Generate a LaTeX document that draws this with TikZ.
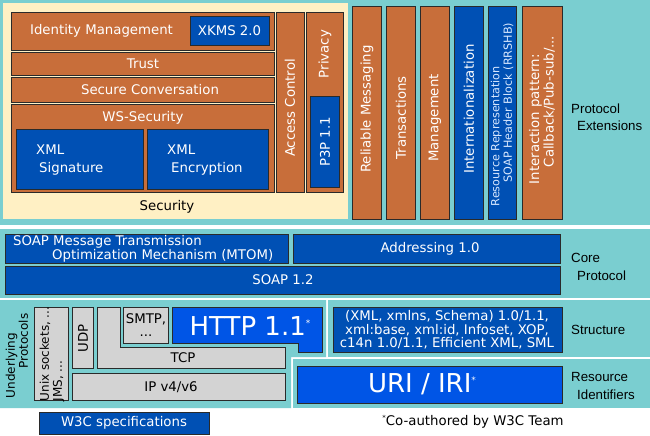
\documentclass[tikz,border=0pt]{standalone}
\usepackage{fontspec}
\setmainfont{DejaVu Sans}
\newfontfamily\lblfont{Liberation Sans}
\definecolor{w3cteal}{HTML}{7ACED0}
\definecolor{w3ccream}{HTML}{FFF0C4}
\definecolor{w3corange}{HTML}{C86E3A}
\definecolor{w3cblue}{HTML}{0050B4}
\definecolor{w3cbright}{HTML}{0055E6}
\definecolor{w3cgray}{HTML}{D3D3D3}
\definecolor{w3cedge}{HTML}{2A2A2A}
\definecolor{w3cpale}{HTML}{D8E8FF}

\begin{document}
\begin{tikzpicture}[x=1pt, y=-1pt,
    box/.style={draw=w3cedge, line width=0.8pt},
    txt/.style={inner sep=0pt, text=white, font=\fontsize{13.3}{16}\selectfont},
    dtxt/.style={inner sep=0pt, text=black, font=\fontsize{13.3}{16}\selectfont},
    vtxt/.style={txt, rotate=90},
    lbl/.style={inner sep=0pt, anchor=west, align=left, font=\lblfont\fontsize{13.3}{17.5}\selectfont}]
    \useasboundingbox (0,0) rectangle (650,436);

    % 1. Teal panels and the security area
    \fill[white] (0,0) rectangle (650,436);
    \fill[w3cteal] (0,0) rectangle (650,225);
    \fill[w3cteal] (0,229) rectangle (650,298);
    \fill[w3cteal] (0,300) -- (326,300) -- (326,357) -- (291,357) -- (291,408) -- (0,408) -- cycle;
    \fill[w3cteal] (328,300) rectangle (650,357);
    \fill[w3cteal] (293,359) rectangle (650,408);
    \fill[w3ccream] (3,3) rectangle (348,219);

    % 2. Security boxes
    \draw[box, fill=w3corange] (11,12) rectangle (274,50);
    \draw[box, fill=w3cblue] (190,16) rectangle (269,45);
    \draw[box, fill=w3corange] (11,52) rectangle (274,75);
    \draw[box, fill=w3corange] (11,77) rectangle (274,102);
    \draw[box, fill=w3corange] (11,104) rectangle (274,192);
    \draw[box, fill=w3cblue] (16,129) rectangle (143,189);
    \draw[box, fill=w3cblue] (147,129) rectangle (268,189);
    \draw[box, fill=w3corange] (276,12) rectangle (304,192);
    \draw[box, fill=w3corange] (306,12) rectangle (343,192);
    \draw[box, fill=w3cblue] (310,96) rectangle (339,187);

    \node[txt] (idm) at (101.5,31) {Identity Management};
    \node[txt] (xkms) at (229.5,30.5) {XKMS 2.0};
    \node[txt] (trust) at (143,64) {Trust};
    \node[txt] (secconv) at (150,90) {Secure Conversation};
    \node[txt] (wssec) at (143,118) {WS-Security};
    \node[txt, anchor=west, align=left, font=\fontsize{13.3}{18.5}\selectfont] (xmlsig) at (36,160) {XML\\\hspace{3pt}Signature};
    \node[txt, anchor=west, align=left, font=\fontsize{13.3}{18.5}\selectfont] (xmlenc) at (167,160) {XML\\\hspace{4pt}Encryption};
    \node[vtxt] (access) at (290,108) {Access Control};
    \node[vtxt] (privacy) at (325,54) {Privacy};
    \node[vtxt] (p3p) at (325,142) {P3P 1.1};
    \node[dtxt] (security) at (167,207) {Security};

    % 3. Extension bars
    \draw[box, fill=w3corange] (352,6) rectangle (381,219);
    \draw[box, fill=w3corange] (386,6) rectangle (415,219);
    \draw[box, fill=w3corange] (420,6) rectangle (449,219);
    \draw[box, fill=w3cblue] (454,6) rectangle (483,219);
    \draw[box, fill=w3cblue] (488,6) rectangle (516,219);
    \draw[box, fill=w3corange] (522,6) rectangle (562,219);

    \node[vtxt] (reliable) at (367,109) {Reliable Messaging};
    \node[vtxt] (trans) at (401,118) {Transactions};
    \node[vtxt] (mgmt) at (435,118) {Management};
    \node[vtxt] (intl) at (469,109) {Internationalization};
    \node[vtxt, text=w3cpale, align=left, font=\fontsize{11.2}{12.5}\selectfont] (rrshb) at (502,114.5)
        {Resource Representation\\\hspace{24pt}SOAP Header Block (RRSHB)};
    \node[vtxt, align=left, font=\fontsize{13.3}{14.5}\selectfont] (inter) at (542,110)
        {Interaction pattern:\\\hspace{17pt}Callback/Pub-sub/...};
    \node[lbl] (protext) at (571,117) {Protocol\\\hspace{6pt}Extensions};

    % 4. Core protocol
    \draw[box, fill=w3cblue] (5,234) rectangle (288,263);
    \draw[box, fill=w3cblue] (293,234) rectangle (560,263);
    \draw[box, fill=w3cblue] (5,266) rectangle (560,294);

    \node[txt, anchor=west, align=left, font=\fontsize{13.3}{12}\selectfont] (mtom) at (13,249)
        {SOAP Message Transmission\\\hspace{39pt}Optimization Mechanism (MTOM)};
    \node[txt] (addr) at (430,248.5) {Addressing 1.0};
    \node[txt] (soap) at (283,280) {SOAP 1.2};
    \node[lbl] (coreprot) at (571,267) {Core\\\hspace{6pt}Protocol};

    % 5. Underlying protocols
    \draw[box, fill=w3cgray] (34,307) rectangle (68,400);
    \draw[box, fill=w3cgray] (72,307) rectangle (93,368);
    \draw[box, fill=w3cgray] (72,373) rectangle (285,400);
    \draw[box, fill=w3cgray] (97,307) -- (120,307) -- (120,347) -- (285,347) -- (285,368) -- (97,368) -- cycle;
    \draw[box, fill=w3cgray] (123,307) rectangle (168,343);
    \draw[box, fill=w3cbright] (172,307) -- (322,307) -- (322,352) -- (298,352) -- (298,343) -- (172,343) -- cycle;

    \node[dtxt, rotate=90, align=left, font=\fontsize{12}{13}\selectfont] (under) at (17,356)
        {Underlying\\\hspace{30pt}Protocols};
    \node[dtxt, rotate=90, align=left, font=\fontsize{12}{13}\selectfont] (unix) at (52,354)
        {Unix sockets, ...\\JMS, ...};
    \node[dtxt, rotate=90] (udp) at (83,338) {UDP};
    \node[dtxt] (tcp) at (183,358) {TCP};
    \node[dtxt] (ip) at (171,387) {IP v4/v6};
    \node[dtxt, align=center, font=\fontsize{13.3}{13}\selectfont] (smtp) at (146,325) {SMTP,\\...};
    \node[txt, font=\fontsize{26}{28}\selectfont] (http) at (250,326)
        {HTTP 1.1\raisebox{9pt}{\fontsize{9}{9}\selectfont *}};

    % 6. Structure and resource identifiers
    \draw[box, fill=w3cblue] (333,307) rectangle (562,352);
    \draw[box, fill=w3cbright] (297,366) rectangle (562,403);

    \node[txt, align=center, font=\fontsize{13.3}{13.3}\selectfont] (struct) at (447,330)
        {(XML, xmlns, Schema) 1.0/1.1,\\xml:base, xml:id, Infoset, XOP,\\c14n 1.0/1.1, Efficient XML, SML};
    \node[lbl] (structlbl) at (571,330) {Structure};
    \node[txt, font=\fontsize{26}{28}\selectfont] (uri) at (422,384)
        {URI / IRI\raisebox{9pt}{\fontsize{9}{9}\selectfont *}};
    \node[lbl] (resid) at (571,386) {Resource\\\hspace{6pt}Identifiers};

    % 7. Legend
    \draw[box, fill=w3cblue] (39,412) rectangle (209,434);
    \node[txt] (w3cspec) at (124,423) {W3C specifications};
    \node[dtxt] (note) at (473,422) {\raisebox{5pt}{\fontsize{7}{7}\selectfont *}Co-authored by W3C Team};
\end{tikzpicture}
\end{document}
